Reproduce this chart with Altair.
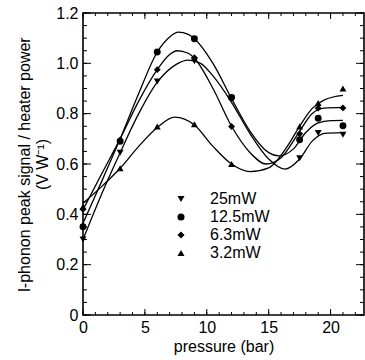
import altair as alt
import pandas as pd

# ---- data ----
series = ["25mW", "12.5mW", "6.3mW", "3.2mW"]
shapes = ["triangle-down", "circle", "diamond", "triangle-up"]

pressure = [0, 3, 6, 9, 12, 17.5, 19, 21]
sig_25 = [0.300, 0.645, 0.928, 1.008, 0.860, 0.623, 0.723, 0.716]
sig_12 = [0.351, 0.690, 1.045, 1.098, 0.864, 0.696, 0.782, 0.752]
sig_6 = [0.420, 0.696, 0.975, 1.022, 0.749, 0.720, 0.822, 0.823]
sig_3 = [0.430, 0.583, 0.749, 0.758, 0.600, 0.749, 0.842, 0.900]

# fitted curves
fit25_x = [0, 1.5, 3, 4.5, 6, 7.5, 8.5, 9.5, 10.5, 12, 13.5, 15, 16.3, 17.5, 18.5, 19.5, 21]
fit25_y = [0.300, 0.480, 0.645, 0.800, 0.925, 0.995, 1.013, 1.000, 0.950, 0.845, 0.720, 0.620, 0.580, 0.620, 0.690, 0.722, 0.725]
fit12_x = [0, 1.5, 3, 4.5, 6, 7, 7.7, 8.5, 9, 10.5, 12, 13.5, 15, 15.8, 17, 18, 19, 20, 21]
fit12_y = [0.365, 0.530, 0.700, 0.880, 1.045, 1.105, 1.124, 1.115, 1.098, 1.000, 0.860, 0.730, 0.645, 0.632, 0.660, 0.725, 0.763, 0.772, 0.773]
fit6_x = [0, 1.5, 3, 4.5, 6, 7, 7.6, 8.5, 9, 10.5, 12, 13.5, 14.8, 16, 17.5, 18.5, 19.5, 21]
fit6_y = [0.418, 0.560, 0.700, 0.850, 0.975, 1.035, 1.050, 1.040, 1.020, 0.900, 0.750, 0.645, 0.600, 0.625, 0.730, 0.800, 0.822, 0.825]
fit3_x = [0, 1.5, 3, 4.5, 6, 7.4, 9, 10.5, 12, 13.5, 15, 16.5, 17.5, 18.5, 19.5, 21]
fit3_y = [0.444, 0.510, 0.583, 0.670, 0.745, 0.786, 0.755, 0.670, 0.600, 0.570, 0.585, 0.670, 0.750, 0.820, 0.855, 0.873]

x_major = [0, 5, 10, 15, 20]
x_minor = list(range(0, 23))
y_major = [0, 0.2, 0.4, 0.6, 0.8, 1.0, 1.2]
y_minor = [round(i * 0.05, 2) for i in range(0, 25)]

# ---- build tables ----
pts = pd.concat([
    pd.DataFrame({"p": pressure, "s": v, "series": name})
    for name, v in zip(series, [sig_25, sig_12, sig_6, sig_3])
])
fits = pd.concat([
    pd.DataFrame({"p": fx, "s": fy, "series": name})
    for name, fx, fy in zip(series, [fit25_x, fit12_x, fit6_x, fit3_x],
                            [fit25_y, fit12_y, fit6_y, fit3_y])
])

W, H = 281, 302
XD = [0, 22.7]
YD = [0, 1.2]

xs = alt.Scale(domain=XD, nice=False, zero=False)
ys = alt.Scale(domain=YD, nice=False)

x_axis = alt.Axis(values=x_major, ticks=False, domain=False, grid=False,
                  labelPadding=4, title="pressure (bar)", titlePadding=3,
                  labelFlush=False)
y_axis = alt.Axis(values=y_major, ticks=False, domain=False, grid=False,
                  labelPadding=5, labelExpr="datum.value == 0 ? '0' : format(datum.value, '.1f')",
                  title=["l-phonon peak signal / heater power", "(V W⁻¹)"],
                  titlePadding=5, titleLineHeight=18)

lines = alt.Chart(fits).mark_line(interpolate="monotone", color="black", strokeWidth=1.3).encode(
    x=alt.X("p:Q", scale=xs, axis=x_axis),
    y=alt.Y("s:Q", scale=ys, axis=y_axis),
    detail="series:N",
)

points = alt.Chart(pts).mark_point(filled=True, opacity=1, color="black", size=48).encode(
    x=alt.X("p:Q", scale=xs),
    y=alt.Y("s:Q", scale=ys),
    shape=alt.Shape("series:N", scale=alt.Scale(domain=series, range=shapes),
                    legend=alt.Legend(title=None, orient="none", legendX=90, legendY=178,
                                      labelFontSize=16, symbolSize=50, labelOffset=21,
                                      rowPadding=2, padding=0,
                                      symbolFillColor="black", symbolStrokeColor="black")),
)


def xticks(vals, length, top):
    d = pd.DataFrame({"v": vals})
    if top:
        return alt.Chart(d).mark_rule(color="black", strokeWidth=1).encode(
            x=alt.X("v:Q", scale=xs), y=alt.value(0), y2=alt.value(length))
    return alt.Chart(d).mark_rule(color="black", strokeWidth=1).encode(
        x=alt.X("v:Q", scale=xs), y=alt.value(H), y2=alt.value(H - length))


def yticks(vals, length, right):
    d = pd.DataFrame({"v": vals})
    if right:
        return alt.Chart(d).mark_rule(color="black", strokeWidth=1).encode(
            y=alt.Y("v:Q", scale=ys), x=alt.value(W), x2=alt.value(W - length))
    return alt.Chart(d).mark_rule(color="black", strokeWidth=1).encode(
        y=alt.Y("v:Q", scale=ys), x=alt.value(0), x2=alt.value(length))


tick_layers = [
    xticks(x_minor, 3, False), xticks(x_major, 6, False),
    xticks(x_minor, 3, True), xticks(x_major, 6, True),
    yticks(y_minor, 4, False), yticks(y_major, 8, False),
    yticks(y_minor, 4, True), yticks(y_major, 8, True),
]

chart = alt.layer(lines, points, *tick_layers).properties(
    width=W, height=H,
    autosize=alt.AutoSizeParams(type="none"),
    padding={"left": 83, "top": 13, "right": 1, "bottom": 45},
).configure(font="Liberation Sans").configure_view(
    stroke="black", strokeWidth=1.6
).configure_axis(
    labelFontSize=16, titleFontSize=16, labelColor="black", titleColor="black",
    titleFontWeight="normal", labelFont="Liberation Sans", titleFont="Liberation Sans"
).configure_legend(
    labelFont="Liberation Sans", labelColor="black"
)

chart.save("out.html", embed_options={"renderer": "svg", "actions": False})
